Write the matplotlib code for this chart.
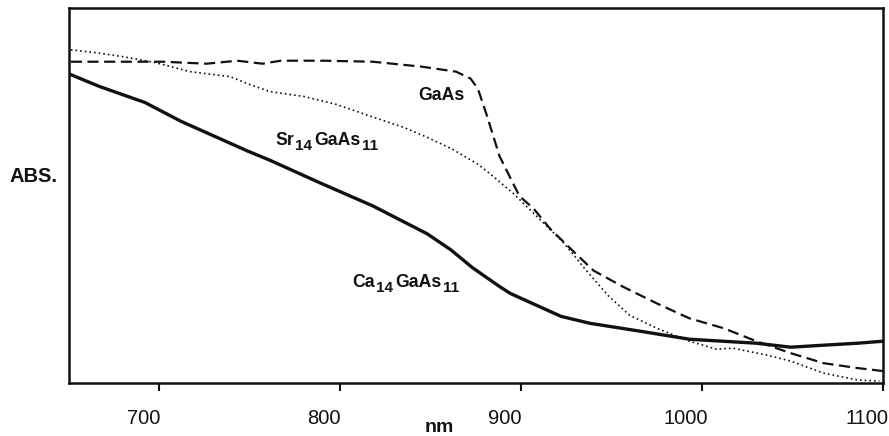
import matplotlib
matplotlib.use("Agg")
import matplotlib.pyplot as plt
import matplotlib.transforms as mtransforms

plt.rcParams['font.family'] = ['Liberation Sans', 'DejaVu Sans']

# Data (wavelength in nm, absorbance in arbitrary units)
ca_nm = [651, 667, 692, 712, 749, 761, 789, 818, 833, 848, 861, 873, 888, 894, 922, 938,
         966, 993, 1030, 1049, 1067, 1086, 1100]
ca_abs = [307, 295, 279, 260, 230, 221, 198, 175, 161, 147, 131, 113, 94, 87, 64, 57,
          49, 41, 37, 33, 35, 37, 39]

ga_nm = [651, 702, 726, 743, 757, 767, 791, 818, 845, 864, 872, 876, 881, 888, 899,
         907, 916, 929, 940, 956, 975, 993, 1012, 1030, 1049, 1067, 1086, 1100]
ga_abs = [320, 320, 318, 321, 318, 321, 321, 320, 315, 310, 303, 293, 266, 225, 185,
          172, 152, 129, 110, 94, 77, 62, 52, 39, 27, 17, 12, 9]

sr_nm = [651, 665, 680, 698, 717, 739, 750, 761, 780, 798, 817, 835, 848, 862, 876,
         883, 896, 910, 923, 936, 948, 960, 975, 993, 1008, 1017, 1036, 1049, 1067,
         1086, 1098]
sr_abs = [332, 329, 325, 319, 310, 305, 297, 290, 285, 277, 265, 254, 244, 232, 217,
          207, 187, 162, 139, 110, 85, 65, 52, 39, 31, 32, 25, 19, 7, 0, -1]

xticks = [700, 800, 900, 1000, 1100]

fig = plt.figure(figsize=(8.89, 4.36), dpi=100)
ax = fig.add_axes([69/889, (436-383)/436, (883-69)/889, (383-8)/436])

ink = '#111111'
ax.plot(ca_nm, ca_abs, color=ink, lw=2.4, solid_joinstyle='round')
ax.plot(ga_nm, ga_abs, color=ink, lw=1.6, linestyle=(0, (5, 2.5)))
ax.plot(sr_nm, sr_abs, color=ink, lw=1.2, linestyle=(0, (1, 1.8)))

ax.set_xlim(650, 1100)
ax.set_ylim(-3, 374)
ax.set_yticks([])
ax.set_xticks(xticks)
ax.set_xticklabels([str(t) for t in xticks])
ax.tick_params(axis='x', direction='out', length=6, width=1.5, pad=13,
               labelsize=14.5, colors=ink)
for spine in ax.spines.values():
    spine.set_linewidth(1.8)
    spine.set_color(ink)

shift = mtransforms.ScaledTranslation(-16/100, 0, fig.dpi_scale_trans)
for lab in ax.get_xticklabels():
    lab.set_transform(lab.get_transform() + shift)


def put(px, py, s, **kw):
    return fig.text(px/889, 1 - py/436, s, **kw)


def formula(px, py, pieces):
    """pieces: list of (text, is_subscript). px, py = left, baseline in pixels."""
    prev = None
    for txt, sub in pieces:
        size = 11 if sub else 12.7
        if prev is None:
            prev = put(px, py, txt, fontsize=size, fontweight='bold',
                       ha='left', va='baseline', color=ink)
            base = prev
            continue
        dy = -3.0 if sub else 0.0
        gap = 1.2
        prev_dy = getattr(prev, '_dy', 0.0)
        t = ax.annotate(txt, xy=(1, 0), xycoords=prev,
                        xytext=(gap, dy - prev_dy), textcoords='offset points',
                        fontsize=size, fontweight='bold', ha='left', va='bottom',
                        color=ink, annotation_clip=False)
        t._dy = dy
        prev = t


put(441, 96, 'GaAs', fontsize=12.7, fontweight='bold', ha='center', va='center', color=ink)
formula(275, 145, [('Sr', False), ('14', True), ('GaAs', False), ('11', True)])
formula(352, 287, [('Ca', False), ('14', True), ('GaAs', False), ('11', True)])
put(33, 176, 'ABS.', fontsize=14.5, fontweight='bold', ha='center', va='center', color=ink)
put(439, 427, 'nm', fontsize=14, fontweight='bold', ha='center', va='center', color=ink)

fig.savefig('out.png', dpi=100)
